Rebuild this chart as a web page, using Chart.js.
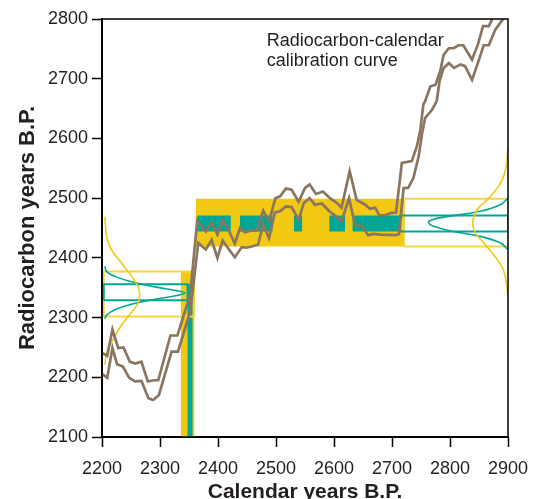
<!DOCTYPE html>
<html>
<head>
<meta charset="utf-8">
<script src="https://cdn.jsdelivr.net/npm/chart.js@4.4.1/dist/chart.umd.min.js"></script>
<style>
  body { margin: 0; background: #fff; }
  #wrap { width: 543px; height: 499px; }
</style>
</head>
<body>
<div id="wrap"><canvas id="calib" width="543" height="499"></canvas></div>
<script>
// calibration curve, upper and lower bound (calendar yr B.P. / radiocarbon yr B.P.)
const upperYears = [2200,2209,2218,2228,2237,2248,2257,2268,2279,2289,2297,2318,2330,2352,2364,2379,2389,2399,2408,2418,2429,2438,2446,2458,2467,2478,2488,2499,2507,2517,2527,2539,2550,2558,2569,2581,2593,2605,2613,2627,2639,2654,2662,2671,2678,2688,2697,2707,2717,2734,2743,2749,2754,2757,2766,2775,2783,2789,2798,2806,2815,2823,2838,2848,2857,2867,2880];
const upperC14 = [2241,2236,2280,2249,2250,2226,2223,2226,2193,2195,2195,2270,2270,2338,2461,2444,2459,2439,2463,2447,2424,2450,2443,2446,2446,2479,2461,2500,2503,2516,2514,2494,2517,2523,2507,2511,2500,2492,2484,2545,2497,2489,2482,2484,2471,2471,2475,2476,2559,2562,2587,2615,2657,2662,2687,2690,2712,2740,2751,2751,2756,2756,2732,2757,2788,2788,2815];
const lowerYears = [2200,2209,2218,2226,2236,2247,2257,2268,2280,2288,2298,2320,2331,2352,2366,2379,2389,2399,2408,2419,2429,2441,2449,2458,2469,2478,2488,2498,2507,2517,2527,2539,2548,2558,2567,2579,2592,2604,2613,2626,2636,2648,2659,2668,2680,2707,2712,2720,2728,2737,2746,2752,2757,2769,2777,2782,2789,2798,2807,2818,2826,2838,2849,2858,2867,2878,2893,2900];
const lowerC14 = [2206,2199,2249,2222,2218,2199,2193,2194,2165,2162,2170,2243,2243,2310,2425,2414,2430,2400,2429,2414,2401,2418,2417,2419,2422,2456,2433,2476,2478,2486,2485,2464,2492,2500,2489,2491,2478,2469,2461,2500,2456,2453,2438,2440,2439,2438,2440,2517,2517,2534,2570,2609,2634,2648,2662,2696,2718,2726,2718,2724,2721,2698,2729,2756,2756,2782,2802,2809];

// sample 1: measured date (left) and its calibrated range
const s1C14Wide = [2302, 2377];
const s1C14Narrow = [2329, 2356];
const s1CalWide = [2336, 2359];
const s1CalNarrow = [2347.5, 2356];
const s1WideCurveCal = [2205,2208,2216,2234,2251,2262,2265,2262,2248,2234,2219,2208,2205];
const s1WideCurveC14 = [2469,2436,2414,2391,2369,2352,2338,2324,2305,2288,2263,2241,2221];
const s1NarrowCurveCal = [2205,2208,2222,2254,2294,2329,2343,2329,2294,2254,2222,2208,2205];
const s1NarrowCurveC14 = [2386,2377,2369,2359,2351,2345,2341,2337,2331,2323,2313,2304,2298];

// sample 2: measured date (right) and its calibrated ranges
const s2C14Wide = [2419, 2499];
const s2C14Narrow = [2444, 2471];
const s2CalWide = [2362, 2721];
const s2CalNarrow = [[2364, 2422], [2438, 2494], [2531, 2545], [2592, 2619], [2632, 2714]];
const s2WideCurveCal = [2900,2897,2887,2864,2847,2839,2844,2858,2878,2892,2898,2900];
const s2WideCurveC14 = [2587,2553,2525,2497,2481,2458,2442,2425,2402,2380,2352,2335];
const s2NarrowCurveCal = [2900,2887,2852,2795,2769,2763,2772,2806,2852,2887,2900];
const s2NarrowCurveC14 = [2500,2489,2478,2469,2464,2459,2453,2444,2436,2425,2414];

const axisStart = 2203;
const noteLines = ['Radiocarbon-calendar', 'calibration curve'];
const noteX = 2484;
const noteY = [2755, 2722];

const YELLOW = '#f2c912';
const YELLOW_LINE = '#f5d548';
const TEAL = '#00a797';
const BROWN = '#8a7561';
const TEXT = '#231f20';
const FONT = "'Liberation Sans', Arial, Helvetica, sans-serif";

function pts(xs, ys) {
  return xs.map((x, i) => ({x: x, y: ys[i]}));
}
function box(xr, yr) {
  return [
    {x: xr[0], y: yr[0]}, {x: xr[1], y: yr[0]},
    {x: xr[1], y: yr[1]}, {x: xr[0], y: yr[1]}, {x: xr[0], y: yr[0]}
  ];
}
function fillSet(data, color, order) {
  return {data: data, fill: 'shape', backgroundColor: color, borderColor: 'rgba(0,0,0,0)',
          borderWidth: 0, pointRadius: 0, tension: 0, order: order};
}
function lineSet(data, color, width, order, tension) {
  return {data: data, fill: false, borderColor: color, borderWidth: width,
          pointRadius: 0, tension: tension || 0, order: order};
}

const datasets = [
  // yellow (2 sigma) fills
  fillSet(box(s1CalWide, [2100, s1C14Wide[1]]), YELLOW, 40),
  fillSet(box(s2CalWide, s2C14Wide), YELLOW, 40),
  // teal (1 sigma) fills
  fillSet(box(s1CalNarrow, [2100, s1C14Narrow[1]]), TEAL, 30),
  ...s2CalNarrow.map(r => fillSet(box(r, s2C14Narrow), TEAL, 30)),
  // outline boxes from the axes
  lineSet(box([axisStart, s1CalWide[1]], s1C14Wide), YELLOW_LINE, 2, 20),
  lineSet(box([axisStart, s1CalNarrow[0]], s1C14Narrow), TEAL, 2, 19),
  lineSet(box([s2CalWide[1], 2900], s2C14Wide), YELLOW_LINE, 2, 20),
  lineSet(box([s2CalNarrow[4][1], 2900], s2C14Narrow), TEAL, 2, 19),
  // probability curves
  lineSet(pts(s1WideCurveCal, s1WideCurveC14), YELLOW, 1.6, 10, 0.4),
  lineSet(pts(s1NarrowCurveCal, s1NarrowCurveC14), TEAL, 1.6, 10, 0.4),
  lineSet(pts(s2WideCurveCal, s2WideCurveC14), YELLOW, 1.6, 10, 0.4),
  lineSet(pts(s2NarrowCurveCal, s2NarrowCurveC14), TEAL, 1.6, 10, 0.4),
  // calibration curve
  lineSet(pts(upperYears, upperC14), BROWN, 2.7, 1),
  lineSet(pts(lowerYears, lowerC14), BROWN, 2.7, 1)
];

const extras = {
  id: 'extras',
  afterDraw(chart) {
    const {ctx, chartArea: a, scales: {x, y}} = chart;
    ctx.save();
    ctx.strokeStyle = '#000';
    ctx.lineWidth = 1.5;
    ctx.strokeRect(a.left, a.top, a.right - a.left, a.bottom - a.top);
    ctx.font = '18px ' + FONT;
    ctx.fillStyle = TEXT;
    ctx.textBaseline = 'alphabetic';
    ctx.textAlign = 'left';
    noteLines.forEach((t, i) => {
      ctx.fillText(t, x.getPixelForValue(noteX), y.getPixelForValue(noteY[i]));
    });
    ctx.restore();
  }
};

Chart.defaults.font.family = FONT;

new Chart(document.getElementById('calib'), {
  type: 'scatter',
  data: {datasets: datasets},
  options: {
    responsive: false,
    animation: false,
    showLine: true,
    layout: {padding: {top: 19, right: 35, left: 0, bottom: 0}},
    plugins: {legend: {display: false}, tooltip: {enabled: false}},
    scales: {
      x: {
        type: 'linear', min: 2200, max: 2900,
        ticks: {stepSize: 100, autoSkip: false, maxRotation: 0, padding: 11, color: TEXT,
                font: {size: 18}, callback: v => String(v)},
        grid: {drawOnChartArea: false, tickLength: 10, color: '#000', tickWidth: 1.5},
        border: {color: '#000', width: 2},
        title: {display: true, text: 'Calendar years B.P.', color: TEXT, padding: 0,
                font: {size: 21, weight: 'bold', lineHeight: 0.6}},
        afterFit: s => { s.height = 62; }
      },
      y: {
        type: 'linear', min: 2100, max: 2800,
        ticks: {stepSize: 100, autoSkip: false, padding: 4, color: TEXT,
                font: {size: 18}, callback: v => String(v)},
        grid: {drawOnChartArea: false, tickLength: 10, color: '#000', tickWidth: 1.5},
        border: {color: '#000', width: 2},
        title: {display: true, text: 'Radiocarbon years B.P.', color: TEXT, padding: {top: 17},
                font: {size: 22, weight: 'bold', lineHeight: 1}},
        afterFit: s => { s.width = 102; }
      }
    }
  },
  plugins: [extras]
});
</script>
</body>
</html>
